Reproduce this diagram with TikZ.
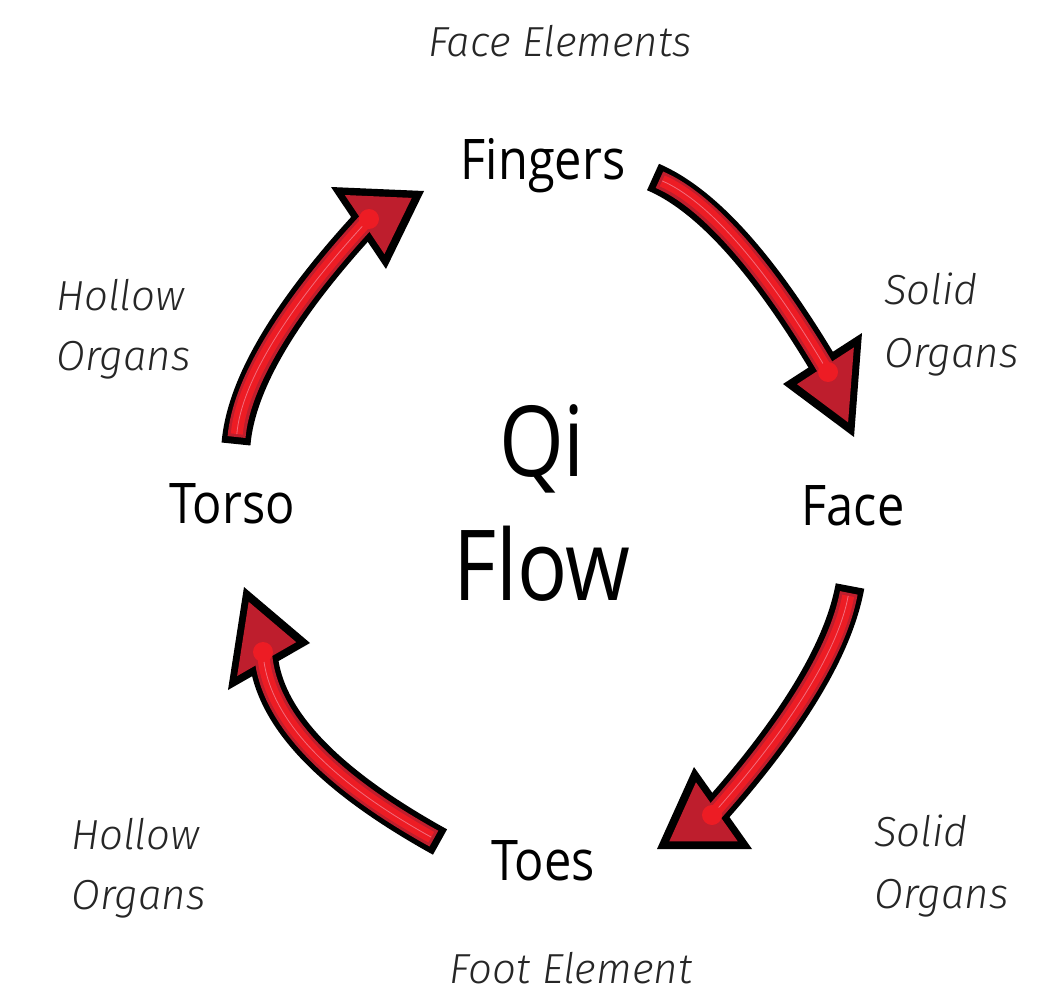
\documentclass[tikz,border=0pt]{standalone}
\usepackage{fontspec}
\setmainfont{Open Sans}
\newfontfamily\handfont{Fira Sans Light Italic}
\usetikzlibrary{calc}
\definecolor{darkred}{HTML}{BE1E2D}
\definecolor{brightred}{HTML}{ED1C24}
\definecolor{pinkline}{HTML}{F26D7D}
\newcommand\qiarrow[8]{%
 \coordinate (#1-tail) at (#2);
 \coordinate (#1-c1) at (#3);
 \coordinate (#1-c2) at (#4);
 \coordinate (#1-dot) at (#5);
 \coordinate (#1-a) at (#6);
 \coordinate (#1-b) at (#7);
 \coordinate (#1-c) at (#8);
 \coordinate (#1-m) at (barycentric cs:#1-a=1,#1-b=1,#1-c=1);
 \draw[shaftouter] (#1-tail) .. controls (#1-c1) and (#1-c2) .. (#1-dot);
 \fill[black] (#1-a) -- (#1-b) -- (#1-c) -- cycle;
 \fill[darkred] ($(#1-m)!0.72!(#1-a)$) -- ($(#1-m)!0.72!(#1-b)$) -- ($(#1-m)!0.72!(#1-c)$) -- cycle;
 \draw[shaftmid] (#1-tail) .. controls (#1-c1) and (#1-c2) .. (#1-dot);
 \draw[shaftinner] (#1-tail) .. controls (#1-c1) and (#1-c2) .. (#1-dot);
 \draw[shaftline] (#1-tail) .. controls (#1-c1) and (#1-c2) .. (#1-dot);
 \fill[brightred] (#1-dot) circle[radius=10];
}
\begin{document}
\begin{tikzpicture}[x=1pt,y=-1pt,
  chalk/.style={font=\fontsize{56}{60}\selectfont, text=black, anchor=base, inner sep=0},
  big/.style={font=\fontsize{98}{100}\selectfont, text=black, anchor=base, inner sep=0},
  hand/.style={font=\handfont\fontsize{42}{48}\selectfont, text=black!85, inner sep=0},
  shaftouter/.style={draw=black, line width=29, line cap=butt},
  shaftmid/.style={draw=darkred, line width=18, line cap=butt, shorten <=7},
  shaftinner/.style={draw=brightred, line width=12, line cap=butt, shorten <=10},
  shaftline/.style={draw=pinkline, line width=0.8, shorten <=10},
]
\useasboundingbox (0,0) rectangle (1042,995);
\fill[white] (0,0) rectangle (1042,995);

% arrows
\qiarrow{ar1}{653,177}{706.7,200}{765,265}{828,372}{783,384}{862,333}{854,437}
\qiarrow{ar2}{850,586}{838.7,648.3}{792.7,724.7}{712,815}{694,767}{752,849}{657,849}
\qiarrow{ar3}{440,842}{325.7,778.7}{266.7,715.3}{263,652}{244,587}{310,643}{228,690}
\qiarrow{ar4}{236,444}{241,384.3}{285.3,309.3}{369,219}{331,187}{424,191}{386,269}

% chalk labels
\node[chalk] (fingers) at (543,180) {\scalebox{0.87}[1]{Fingers}};
\node[chalk] (face) at (853,525) {\scalebox{0.87}[1]{Face}};
\node[chalk] (toes) at (543,880) {\scalebox{0.87}[1]{Toes}};
\node[chalk] (torso) at (232,523) {\scalebox{0.87}[1]{Torso}};
\node[big] (qi) at (542,476) {\scalebox{0.85}[1]{Qi}};
\node[big] (flow) at (542,600) {\scalebox{0.85}[1]{Flow}};

% handwritten labels
\node[hand, anchor=base] (faceel) at (560,57) {Face Elements};
\node[hand, anchor=base] (footel) at (571,983) {Foot Element};
\node[hand, anchor=base west] (hol1a) at (56,310) {Hollow};
\node[hand, anchor=base west] (hol1b) at (56,370) {Organs};
\node[hand, anchor=base west] (sol1a) at (884,305) {Solid};
\node[hand, anchor=base west] (sol1b) at (884,367) {Organs};
\node[hand, anchor=base west] (hol2a) at (71,849) {Hollow};
\node[hand, anchor=base west] (hol2b) at (71,909) {Organs};
\node[hand, anchor=base west] (sol2a) at (874,846) {Solid};
\node[hand, anchor=base west] (sol2b) at (874,908) {Organs};
\end{tikzpicture}
\end{document}
